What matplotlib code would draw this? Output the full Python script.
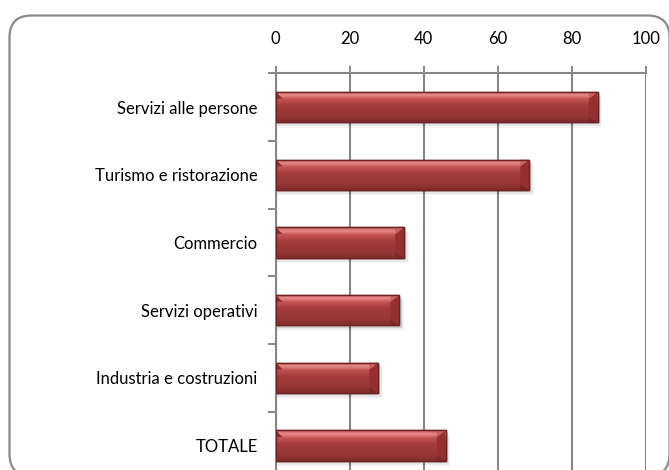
import matplotlib
matplotlib.use("Agg")
import matplotlib.pyplot as plt
import numpy as np
from matplotlib.patches import FancyBboxPatch, Rectangle
from matplotlib.colors import LinearSegmentedColormap
from matplotlib.transforms import IdentityTransform

categories = ["Servizi alle persone", "Turismo e ristorazione", "Commercio",
              "Servizi operativi", "Industria e costruzioni", "TOTALE"]
values = [87.0, 68.5, 34.7, 33.4, 27.7, 45.9]
xticks = [0, 20, 40, 60, 80, 100]

plt.rcParams['font.family'] = ['Lato', 'DejaVu Sans']

W, H = 669, 470
fig = plt.figure(figsize=(W / 100, H / 100), dpi=100)
fig.patch.set_facecolor("white")

# rounded outer border (in pixels)
border = FancyBboxPatch((9.5, -6), 660, 455 + 6 - 0.5,
                        boxstyle="round,pad=0,rounding_size=22",
                        transform=IdentityTransform(), facecolor="none",
                        edgecolor="#8a8a8a", linewidth=1.6, zorder=0)
fig.patches.append(border)

left, right, top, bottom = 275.7, 645.7, 73.3, 479.5
ax = fig.add_axes([left / W, 1 - bottom / H, (right - left) / W, (bottom - top) / H])

n = len(categories)
ypos = np.arange(n)
bar_h = 0.45

ax.set_xlim(0, 100)
ax.set_ylim(n - 0.5, -0.5)

grad_cmap = LinearSegmentedColormap.from_list(
    "barg", [(0.0, "#c25858"), (0.12, "#e98a8a"), (0.25, "#c55454"),
             (0.45, "#a53c3c"), (0.8, "#983737"), (1.0, "#802c2c")])
grad = np.linspace(0, 1, 64).reshape(-1, 1)

# soft shadows
for y, v in zip(ypos, values):
    for k, a in enumerate([0.10, 0.06, 0.035]):
        ax.add_patch(Rectangle((0, y - bar_h / 2 + 0.03 + k * 0.025), v + 0.6 + k * 0.35, bar_h,
                               facecolor="#000000", alpha=a, edgecolor="none", zorder=2))

bars = ax.barh(ypos, values, height=bar_h, color="#a33b3b", edgecolor="#722424",
               linewidth=1.0, zorder=3)
for b, y, v in zip(bars, ypos, values):
    im = ax.imshow(grad, extent=(0, v, y + bar_h / 2, y - bar_h / 2), aspect="auto",
                   cmap=grad_cmap, zorder=3.5, interpolation="bilinear")
    im.set_clip_path(b)
    # bevel at the right end
    dx = 2.4
    t = y - bar_h / 2
    bt = y + bar_h / 2
    ax.fill([v - dx, v, v, v - dx], [t + 0.1, t, bt, bt - 0.08], color="#962f2f", zorder=3.6, lw=0)
    ax.fill([v - dx, v, v - dx], [t + 0.1, t, t], color="#c86060", zorder=3.7, lw=0)
    ax.fill([v - dx, v, v - dx], [bt - 0.08, bt, bt], color="#7a2828", zorder=3.7, lw=0)
    ax.fill([0, dx * 0.8, 0], [t, t + 0.1, t + 0.1], color="#8a2f2f", zorder=3.7, lw=0)
    ax.add_patch(Rectangle((0, t), v, bar_h, facecolor="none", edgecolor="#6e2323",
                           linewidth=1.0, zorder=4))

ax.set_xlim(0, 100)
ax.set_ylim(n - 0.5, -0.5)

gray = "#878787"
ax.xaxis.tick_top()
ax.set_xticks(xticks)
ax.set_xticklabels([str(t) for t in xticks], fontsize=12)
ax.tick_params(axis="x", which="major", direction="out", length=5, width=1.4,
               color=gray, pad=14, labelcolor="black")
ax.grid(axis="x", color=gray, linewidth=1.5, zorder=1)
ax.set_axisbelow(True)

ax.set_yticks(ypos)
ax.set_yticklabels(categories, fontsize=12)
ax.set_yticks(np.arange(-0.5, n, 1.0), minor=True)
ax.tick_params(axis="y", which="major", length=0, pad=13, labelcolor="black")
ax.tick_params(axis="y", which="minor", length=6, width=1.4, color=gray, direction="out")

for s in ["right", "bottom"]:
    ax.spines[s].set_visible(False)
for s in ["top", "left"]:
    ax.spines[s].set_color(gray)
    ax.spines[s].set_linewidth(1.5)

fig.savefig("out.png", dpi=100)
